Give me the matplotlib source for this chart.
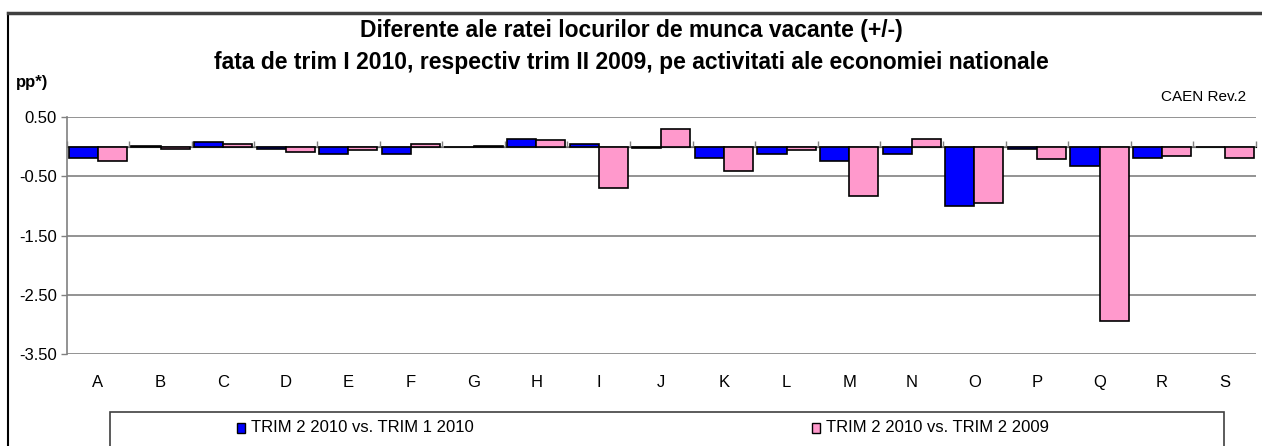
import numpy as np
import matplotlib.pyplot as plt
from matplotlib.patches import Rectangle

plt.rcParams['font.family'] = ['Liberation Sans', 'DejaVu Sans']

categories = ['A', 'B', 'C', 'D', 'E', 'F', 'G', 'H', 'I', 'J',
              'K', 'L', 'M', 'N', 'O', 'P', 'Q', 'R', 'S']
vs_trim1_2010 = [-0.18, 0.02, 0.08, -0.03, -0.12, -0.12, 0.0, 0.13, 0.05, -0.02,
                 -0.18, -0.12, -0.24, -0.12, -1.00, -0.03, -0.32, -0.18, 0.0]
vs_trim2_2009 = [-0.24, -0.04, 0.05, -0.09, -0.06, 0.05, 0.02, 0.12, -0.69, 0.30,
                 -0.41, -0.06, -0.83, 0.13, -0.94, -0.21, -2.95, -0.15, -0.18]
label1 = 'TRIM 2 2010 vs. TRIM 1 2010'
label2 = 'TRIM 2 2010 vs. TRIM 2 2009'
yticks = [0.5, -0.5, -1.5, -2.5, -3.5]

W, H = 1262, 446
fig = plt.figure(figsize=(W / 100, H / 100), dpi=100)
ax = fig.add_axes([66.7 / W, 1 - 354 / H, (1256 - 66.7) / W, (354 - 117.3) / H])

x = np.arange(len(categories))
bw = 0.465
ax.bar(x - bw / 2, vs_trim1_2010, bw, color='#0000FF', edgecolor='black', linewidth=1.2, zorder=3)
ax.bar(x + bw / 2, vs_trim2_2009, bw, color='#FF99CC', edgecolor='black', linewidth=1.2, zorder=3)

ymin, ymax = -3.5, 0.5
ax.set_ylim(ymin, ymax)
ax.set_xlim(-0.5, len(categories) - 0.5)
ax.set_yticks(yticks)
ax.set_yticklabels([f'{v:.2f}' for v in yticks])
ax.yaxis.grid(True, color='#808080', linewidth=1.2, zorder=0)
ax.tick_params(axis='y', length=4, width=1, color='#808080', labelsize=12, pad=3)

ax.set_xticks(x)
ax.set_xticklabels(categories)
ax.tick_params(axis='x', length=0, labelsize=12, pad=15)

for s in ['top', 'right', 'bottom']:
    ax.spines[s].set_visible(False)
ax.spines['left'].set_color('#808080')
ax.spines['left'].set_linewidth(1.2)

# category axis crossing at zero, with boundary ticks
ax.axhline(0, color='#808080', linewidth=1.2, zorder=2)
sec = ax.secondary_xaxis((0 - ymin) / (ymax - ymin))
sec.set_xticks(np.arange(len(categories) + 1) - 0.5)
sec.set_xticklabels([])
sec.tick_params(length=4, width=1, color='#808080')
sec.spines['bottom'].set_visible(False)

# outer chart border
fig.add_artist(plt.Line2D([8 / W, 8 / W], [0, 1 - 13 / H], color='black', linewidth=1.5))
fig.add_artist(plt.Line2D([8 / W, 1], [1 - 13 / H, 1 - 13 / H], color='#404040', linewidth=2.5))

fig.text(0.5, 1 - 30 / H, 'Diferente ale ratei locurilor de munca vacante (+/-)',
         ha='center', va='center', fontsize=16.5, fontweight='bold')
fig.text(0.5, 1 - 62 / H,
         'fata de trim I 2010, respectiv trim II 2009, pe activitati ale economiei nationale',
         ha='center', va='center', fontsize=16.5, fontweight='bold')
fig.text(16 / W, 1 - 82 / H, 'pp*)', ha='left', va='center', fontsize=12, fontweight='bold')
fig.text(1246 / W, 1 - 97 / H, 'CAEN Rev.2', ha='right', va='center', fontsize=11)

# legend box
fig.add_artist(Rectangle((110 / W, -0.05), (1224 - 110) / W, 0.05 + 1 - 411.7 / H,
                         transform=fig.transFigure, facecolor='none',
                         edgecolor='#404040', linewidth=1.2))
for cx, col, lab in [(241, '#0000FF', label1), (816, '#FF99CC', label2)]:
    fig.add_artist(Rectangle(((cx - 4) / W, 1 - 433 / H), 8 / W, 10 / H,
                             transform=fig.transFigure, facecolor=col,
                             edgecolor='black', linewidth=1))
    fig.text((cx + 10) / W, 1 - 428 / H, lab, ha='left', va='center', fontsize=12)

fig.savefig('out.png', dpi=100)
